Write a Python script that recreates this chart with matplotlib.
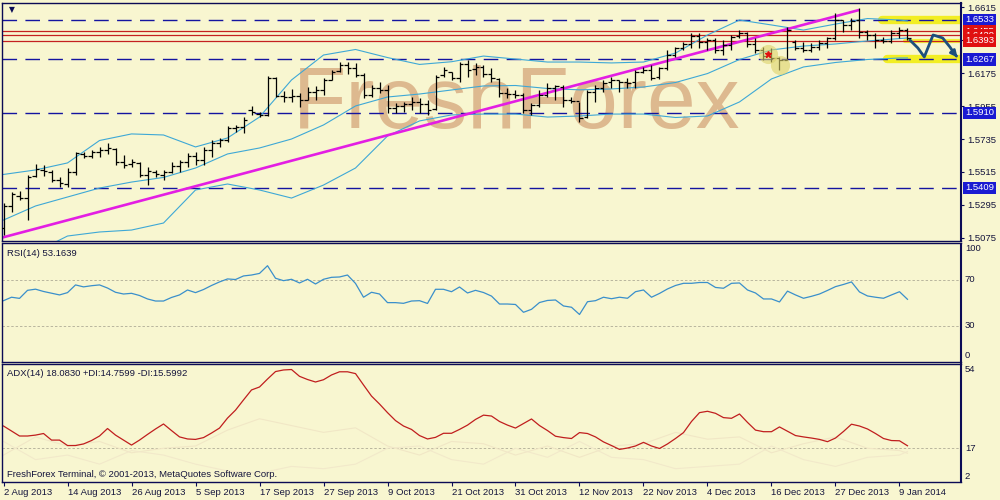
import matplotlib
matplotlib.use('Agg')
import matplotlib.pyplot as plt
import matplotlib.transforms as mtrans
import numpy as np

plt.rcParams['font.family'] = ['Liberation Sans', 'DejaVu Sans']
plt.rcParams['font.size'] = 6.8

# ---------------- data ----------------
date_labels = ['2 Aug 2013', '14 Aug 2013', '26 Aug 2013', '5 Sep 2013', '17 Sep 2013',
               '27 Sep 2013', '9 Oct 2013', '21 Oct 2013', '31 Oct 2013', '12 Nov 2013',
               '22 Nov 2013', '4 Dec 2013', '16 Dec 2013', '27 Dec 2013', '9 Jan 2014']
date_idx = [0, 8, 16, 24, 32, 40, 48, 56, 64, 72, 80, 88, 96, 104, 112]

opens = [1.5140, 1.5287, 1.5354, 1.5340, 1.5488, 1.5528, 1.5514, 1.5461, 1.5434, 1.5514,
         1.5635, 1.5621, 1.5648, 1.5662, 1.5668, 1.5581, 1.5568, 1.5575, 1.5494, 1.5514,
         1.5494, 1.5514, 1.5554, 1.5581, 1.5621, 1.5595, 1.5662, 1.5708, 1.5729, 1.5809,
         1.5815, 1.5929, 1.5902, 1.5896, 1.6143, 1.6023, 1.6016, 1.6023, 1.5996, 1.6050,
         1.6063, 1.6130, 1.6190, 1.6230, 1.6210, 1.6163, 1.6029, 1.6076, 1.6063, 1.5942,
         1.5956, 1.5969, 1.5983, 1.5969, 1.5936, 1.6163, 1.6183, 1.6143, 1.6237, 1.6203,
         1.6217, 1.6170, 1.6137, 1.6043, 1.6036, 1.6029, 1.5929, 1.5963, 1.6029, 1.6076,
         1.6083, 1.5996, 1.5989, 1.5882, 1.6050, 1.6076, 1.6116, 1.6130, 1.6116, 1.6116,
         1.6183, 1.6197, 1.6150, 1.6210, 1.6297, 1.6344, 1.6371, 1.6424, 1.6384, 1.6397,
         1.6331, 1.6364, 1.6424, 1.6444, 1.6371, 1.6331, 1.6290, 1.6277, 1.6264, 1.6384,
         1.6344, 1.6331, 1.6351, 1.6377, 1.6411, 1.6531, 1.6498, 1.6531, 1.6451, 1.6431,
         1.6397, 1.6391, 1.6444, 1.6464]
highs = [1.5307, 1.5381, 1.5387, 1.5494, 1.5568, 1.5561, 1.5528, 1.5481, 1.5541, 1.5648,
         1.5648, 1.5662, 1.5682, 1.5708, 1.5675, 1.5628, 1.5601, 1.5581, 1.5548, 1.5528,
         1.5528, 1.5581, 1.5595, 1.5641, 1.5648, 1.5682, 1.5729, 1.5742, 1.5822, 1.5829,
         1.5882, 1.5956, 1.5916, 1.6157, 1.6150, 1.6056, 1.6070, 1.6043, 1.6083, 1.6090,
         1.6143, 1.6197, 1.6250, 1.6250, 1.6244, 1.6177, 1.6096, 1.6116, 1.6096, 1.5976,
         1.5983, 1.6016, 1.6009, 1.5996, 1.6163, 1.6217, 1.6183, 1.6250, 1.6264, 1.6244,
         1.6230, 1.6210, 1.6143, 1.6076, 1.6063, 1.6043, 1.5976, 1.6063, 1.6110, 1.6096,
         1.6096, 1.6016, 1.5983, 1.6063, 1.6096, 1.6130, 1.6150, 1.6130, 1.6143, 1.6197,
         1.6217, 1.6230, 1.6217, 1.6331, 1.6351, 1.6384, 1.6444, 1.6444, 1.6411, 1.6411,
         1.6397, 1.6431, 1.6464, 1.6451, 1.6411, 1.6351, 1.6344, 1.6284, 1.6484, 1.6397,
         1.6384, 1.6377, 1.6397, 1.6417, 1.6578, 1.6531, 1.6545, 1.6611, 1.6464, 1.6444,
         1.6417, 1.6464, 1.6484, 1.6478]
lows = [1.5093, 1.5247, 1.5327, 1.5193, 1.5481, 1.5488, 1.5447, 1.5414, 1.5414, 1.5494,
        1.5608, 1.5608, 1.5615, 1.5635, 1.5561, 1.5541, 1.5548, 1.5481, 1.5427, 1.5481,
        1.5461, 1.5508, 1.5514, 1.5548, 1.5561, 1.5561, 1.5615, 1.5682, 1.5715, 1.5782,
        1.5775, 1.5896, 1.5882, 1.5889, 1.6016, 1.5983, 1.5983, 1.5949, 1.5996, 1.5996,
        1.6029, 1.6130, 1.6183, 1.6170, 1.6150, 1.6009, 1.6016, 1.6043, 1.5909, 1.5909,
        1.5916, 1.5929, 1.5909, 1.5896, 1.5929, 1.6150, 1.6130, 1.6116, 1.6150, 1.6163,
        1.6150, 1.6116, 1.6016, 1.6009, 1.6009, 1.5909, 1.5896, 1.5949, 1.6016, 1.5996,
        1.5949, 1.5976, 1.5849, 1.5876, 1.5983, 1.6050, 1.6076, 1.6050, 1.6076, 1.6076,
        1.6177, 1.6130, 1.6137, 1.6197, 1.6284, 1.6331, 1.6344, 1.6344, 1.6331, 1.6310,
        1.6297, 1.6331, 1.6411, 1.6351, 1.6310, 1.6264, 1.6250, 1.6197, 1.6264, 1.6331,
        1.6317, 1.6317, 1.6331, 1.6344, 1.6397, 1.6451, 1.6464, 1.6411, 1.6397, 1.6344,
        1.6377, 1.6377, 1.6411, 1.6397]
closes = [1.5287, 1.5367, 1.5340, 1.5481, 1.5534, 1.5521, 1.5461, 1.5441, 1.5514, 1.5641,
          1.5621, 1.5648, 1.5662, 1.5675, 1.5581, 1.5561, 1.5581, 1.5494, 1.5521, 1.5501,
          1.5514, 1.5554, 1.5581, 1.5621, 1.5595, 1.5662, 1.5708, 1.5729, 1.5809, 1.5815,
          1.5862, 1.5916, 1.5896, 1.6143, 1.6023, 1.6016, 1.6023, 1.5996, 1.6050, 1.6063,
          1.6130, 1.6183, 1.6230, 1.6210, 1.6163, 1.6029, 1.6076, 1.6063, 1.5942, 1.5956,
          1.5969, 1.5983, 1.5969, 1.5929, 1.6150, 1.6197, 1.6143, 1.6237, 1.6197, 1.6217,
          1.6170, 1.6143, 1.6043, 1.6036, 1.6029, 1.5929, 1.5963, 1.6029, 1.6076, 1.6090,
          1.5996, 1.5989, 1.5876, 1.6050, 1.6076, 1.6110, 1.6130, 1.6116, 1.6110, 1.6183,
          1.6197, 1.6143, 1.6210, 1.6297, 1.6344, 1.6371, 1.6424, 1.6384, 1.6397, 1.6331,
          1.6364, 1.6417, 1.6444, 1.6371, 1.6331, 1.6290, 1.6277, 1.6264, 1.6464, 1.6344,
          1.6331, 1.6351, 1.6377, 1.6411, 1.6531, 1.6498, 1.6525, 1.6451, 1.6431, 1.6397,
          1.6391, 1.6444, 1.6464, 1.6411]

# Bollinger bands sampled every 4 bars
bb_idx = [0, 4, 8, 12, 16, 20, 24, 28, 32, 36, 40, 44, 48, 52, 56, 60, 64, 68, 72, 76,
          80, 84, 88, 92, 96, 100, 104, 108, 112, 113]
bb_upper = [1.5498, 1.5528, 1.5575, 1.5725, 1.5769, 1.5762, 1.5682, 1.5742, 1.5882, 1.6130,
            1.6297, 1.6334, 1.6280, 1.6234, 1.6252, 1.6290, 1.6270, 1.6250, 1.6250, 1.6244,
            1.6250, 1.6310, 1.6431, 1.6531, 1.6498, 1.6464, 1.6504, 1.6541, 1.6531, 1.6525]
bb_mid = [1.5193, 1.5287, 1.5347, 1.5407, 1.5447, 1.5478, 1.5541, 1.5635, 1.5675, 1.5735,
          1.5829, 1.5956, 1.6016, 1.6036, 1.6063, 1.6090, 1.6093, 1.6073, 1.6064, 1.6070,
          1.6083, 1.6113, 1.6173, 1.6267, 1.6331, 1.6357, 1.6371, 1.6391, 1.6407, 1.6411]
bb_lower = [1.4885, 1.4979, 1.5086, 1.5113, 1.5126, 1.5173, 1.5394, 1.5434, 1.5394, 1.5340,
            1.5427, 1.5541, 1.5755, 1.5856, 1.5896, 1.5902, 1.5902, 1.5882, 1.5889, 1.5902,
            1.5902, 1.5879, 1.5889, 1.5983, 1.6137, 1.6217, 1.6247, 1.6267, 1.6277, 1.6277]

trend_idx = [0, 106.8]
trend_price = [1.5078, 1.6596]

blue_levels = [1.6533, 1.6267, 1.5910, 1.5409]
red_levels = [1.6455, 1.6429, 1.6393]
price_ticks = [1.5075, 1.5295, 1.5515, 1.5735, 1.5955, 1.6175, 1.6395, 1.6615]

rsi = [52, 55, 54, 61, 62, 60, 58.5, 57, 59, 65.7,
       64, 65, 65.7, 63, 59.3, 57.8, 58.4, 56.5, 53.5, 51.7,
       51.7, 54.8, 57, 61.3, 59, 61.7, 65.2, 68.3, 70.9, 70.4,
       73.5, 74.3, 75.7, 82.4, 71.5, 69.4, 70.6, 67.4, 70.6, 66.5,
       70.6, 72.3, 72.6, 74.3, 67, 55, 59.3, 57.8, 50.3, 50.3,
       49.7, 51.7, 52, 49.6, 61.9, 61.9, 59.8, 63.9, 58.7, 61,
       59.1, 56, 49.1, 49.1, 48.7, 41.9, 44.5, 50.4, 52.2, 52.6,
       47.4, 46.3, 40, 51.1, 52, 55, 53.7, 55, 54.1, 59.8,
       61.3, 55, 58.3, 62.2, 65.2, 67.1, 67.1, 67.8, 67.8, 63.5,
       62.8, 67.1, 67.4, 61.3, 58.7, 53.5, 53.5, 50.9, 60.3, 57,
       54.1, 55.8, 57.8, 60.9, 64.2, 66.1, 68.3, 59.6, 56.1, 55,
       54.1, 57, 59.8, 53.2]

adx = [26.8, 24.6, 22.4, 22.4, 22.8, 23.5, 20.6, 20.6, 18.2, 18.2,
       18.9, 20.4, 22.4, 25.7, 22.8, 20.6, 18.4, 20.6, 23.1, 25.5,
       27.7, 24.8, 22, 21.1, 20.9, 21.7, 23.7, 25.9, 30.3, 33.8,
       38.3, 42.7, 44, 47.5, 50.8, 51.5, 51.7, 48.7, 47.3, 46.2,
       47.2, 49.3, 50.7, 50.7, 49.9, 44.9, 40, 36.5, 32.7, 29.2,
       26.8, 25.3, 22.6, 21.1, 21.8, 23.6, 23.6, 25.3, 27.2, 29.7,
       31.6, 31.2, 28.8, 27.2, 25.9, 27.9, 29.9, 27, 24.8, 22.3,
       21.7, 21.3, 23.9, 23.5, 22, 19.8, 18.2, 16.5, 17.1, 18,
       19.6, 18, 16.9, 18.9, 21.3, 23.9, 28.8, 32.7, 33.3, 32.4,
       30.5, 30.2, 32.1, 28.4, 25, 24.3, 24.3, 26.4, 24.5, 22.6,
       22, 21.5, 20.9, 19.9, 21.5, 24.4, 27.6, 26.8, 25.5, 23.5,
       21.3, 20.4, 20.3, 18.1]
plus_di = [14, 22, 18, 20, 15, 17, 18, 25, 30, 27, 24, 26, 18, 14, 20, 19, 14, 18, 13, 18,
           19, 24, 21, 22, 15, 19, 22, 17, 16, 14.8]
minus_di = [20, 12, 14, 10, 16, 14, 10, 7, 6, 9, 8, 10, 17, 18, 12, 10, 17, 13, 20, 13,
            12, 8, 9, 10, 18, 12, 9, 13, 14, 15.6]

# annotation marks (bar index, price)
circle_idx = [95.6, 97.1]
circle_price = [1.6304, 1.6230]
arrow_idx = [113.3, 114.3, 115.1, 116.2, 117.4, 118.3, 118.9]
arrow_price = [1.6397, 1.6344, 1.6284, 1.6431, 1.6411, 1.6351, 1.6304]

# ---------------- styling ----------------
BG = '#f8f6d0'
NAVY = '#0b0b55'
TXT = '#14143c'
W, H = 1000.0, 500.0
XL = (-0.19, 119.69)

fig = plt.figure(figsize=(10, 5), dpi=100, facecolor=BG)


def panel(l, t, r, b):
    a = fig.add_axes([l / W, 1 - b / H, (r - l) / W, (b - t) / H])
    a.set_facecolor(BG)
    for s in a.spines.values():
        s.set_color(NAVY)
        s.set_linewidth(1.0)
    a.spines['right'].set_linewidth(1.5)
    a.set_xlim(*XL)
    a.tick_params(axis='x', bottom=False, labelbottom=False)
    return a


ax = panel(2, 2.5, 961, 241)
ax_rsi = panel(2, 243.5, 961, 361.7)
ax_adx = panel(2, 364.3, 961, 482.3)

n = len(closes)
x = np.arange(n)

# ---- main price panel ----
ax.set_ylim(1.50527, 1.66483)
ax.text(0.303, 0.472, 'FreshForex', transform=ax.transAxes, fontsize=63,
        color='#ddb98f', ha='left', va='baseline', zorder=0.5)

for lvl in blue_levels:
    ax.axhline(lvl, color='#1414a0', lw=1.0, dashes=(10.5, 6.0), zorder=2)
for lvl in red_levels:
    ax.axhline(lvl, color='#c42020', lw=0.9, zorder=2)

# yellow highlights
ax.plot([109.8, XL[1]], [blue_levels[0]] * 2, color='#f2ee10', lw=6, alpha=0.9,
        solid_capstyle='round', zorder=1.6)
ax.plot([110.4, XL[1]], [blue_levels[1]] * 2, color='#f2ee10', lw=6, alpha=0.9,
        solid_capstyle='round', zorder=1.6)
ax.plot([112.7, XL[1]], [red_levels[2]] * 2, color='#f2ee10', lw=3, alpha=0.8,
        solid_capstyle='round', zorder=1.6)

ax.plot(bb_idx, bb_upper, color='#3ea8d6', lw=0.8, zorder=2.2)
ax.plot(bb_idx, bb_mid, color='#3ea8d6', lw=0.8, zorder=2.2)
ax.plot(bb_idx, bb_lower, color='#3ea8d6', lw=0.8, zorder=2.2)
ax.plot(trend_idx, trend_price, color='#e31ee3', lw=1.9, zorder=2.4)

ax.vlines(x, lows, highs, color='black', lw=0.9, zorder=3)
ax.hlines(opens, x - 0.38, x, color='black', lw=0.9, zorder=3)
ax.hlines(closes, x, x + 0.38, color='black', lw=0.9, zorder=3)

ax.scatter(circle_idx, circle_price, s=190, color='#dcd26a', alpha=0.6, lw=0, zorder=3.5)
ax.plot(circle_idx[0], circle_price[0] + 0.0003, marker='*', color='#e01010', ms=5, zorder=3.6)

ax.plot(arrow_idx, arrow_price, color='#1d4f7c', lw=2.0, solid_capstyle='round',
        solid_joinstyle='round', zorder=4, clip_on=False)
ax.annotate('', xy=(119.25, 1.6281), xytext=(arrow_idx[-1], arrow_price[-1]),
            arrowprops=dict(arrowstyle='-|>', color='#1d4f7c', lw=2.0, mutation_scale=9),
            zorder=4, annotation_clip=False)

ax.text(0.0073, 0.9686, '\u25bc', transform=ax.transAxes, fontsize=5.5, color=NAVY,
        ha='left', va='center', family=['DejaVu Sans'])

ax.yaxis.tick_right()
ax.set_yticks(price_ticks)
ax.set_yticklabels(['%.4f' % v for v in price_ticks])
ax.tick_params(axis='y', direction='out', length=2.2, width=0.8, color=NAVY, pad=2.2,
               labelsize=6.8, labelcolor=TXT)

trans_main = mtrans.blended_transform_factory(ax.transAxes, ax.transData)
for lvl in blue_levels:
    ax.text(1.0042, lvl, '%.4f' % lvl, transform=trans_main, ha='left', va='center',
            color='white', fontsize=6.8, clip_on=False, zorder=6,
            bbox=dict(boxstyle='square,pad=0.18', fc='#1a1ad2', ec='none'))
for k, lvl in enumerate(red_levels):
    ax.text(1.0042, lvl, '%.4f' % lvl, transform=trans_main, ha='left', va='center',
            color='white', fontsize=6.8, clip_on=False, zorder=6 + k,
            bbox=dict(boxstyle='square,pad=0.18', fc='#e01010', ec='none'))

# ---- RSI panel ----
ax_rsi.set_ylim(-1.04, 101.7)
ax_rsi.set_yticks([])
for lvl in (70, 30):
    ax_rsi.axhline(lvl, color='#b9b59e', lw=0.7, dashes=(2.5, 2.0))
ax_rsi.plot(x, rsi, color='#3a8fcb', lw=0.9)
tr = mtrans.blended_transform_factory(ax_rsi.transAxes, ax_rsi.transData)
for val, va in ((100, 'top'), (70, 'center'), (30, 'center'), (0, 'bottom')):
    yy = 101.2 if val == 100 else (0.5 if val == 0 else val)
    ax_rsi.text(1.004, yy, str(val), transform=tr, ha='left', va=va, color=TXT,
                fontsize=6.8, clip_on=False)
ax_rsi.text(0.0052, 0.915, 'RSI(14) 53.1639', transform=ax_rsi.transAxes, ha='left',
            va='center', color=TXT, fontsize=6.8)

# ---- ADX panel ----
ax_adx.set_ylim(2, 54)
ax_adx.set_yticks([])
ax_adx.axhline(17, color='#b9b59e', lw=0.7, dashes=(2.5, 2.0))
ax_adx.plot(bb_idx, plus_di, color='#f1e7c6', lw=0.8)
ax_adx.plot(bb_idx, minus_di, color='#f2e9ca', lw=0.8)
ax_adx.plot(x, adx, color='#c01e1e', lw=0.9)
tr2 = mtrans.blended_transform_factory(ax_adx.transAxes, ax_adx.transData)
for val, va in ((54, 'top'), (17, 'center'), (2, 'bottom')):
    yy = 53.7 if val == 54 else (2.4 if val == 2 else val)
    ax_adx.text(1.004, yy, str(val), transform=tr2, ha='left', va=va, color=TXT,
                fontsize=6.8, clip_on=False)
ax_adx.text(0.0052, 0.918, 'ADX(14) 18.0830 +DI:14.7599 -DI:15.5992',
            transform=ax_adx.transAxes, ha='left', va='center', color=TXT, fontsize=6.8)
ax_adx.text(0.0052, 0.062, 'FreshForex Terminal, \u00a9 2001-2013, MetaQuotes Software Corp.',
            transform=ax_adx.transAxes, ha='left', va='center', color=TXT, fontsize=6.8)

ax_adx.set_xticks(date_idx)
ax_adx.set_xticklabels(date_labels)
ax_adx.tick_params(axis='x', bottom=True, labelbottom=True, direction='out', length=3,
                   width=0.8, color=NAVY, pad=1.2, labelsize=6.8, labelcolor=TXT)
for t in ax_adx.get_xticklabels():
    t.set_horizontalalignment('left')

fig.savefig('out.png', dpi=100, facecolor=BG)
